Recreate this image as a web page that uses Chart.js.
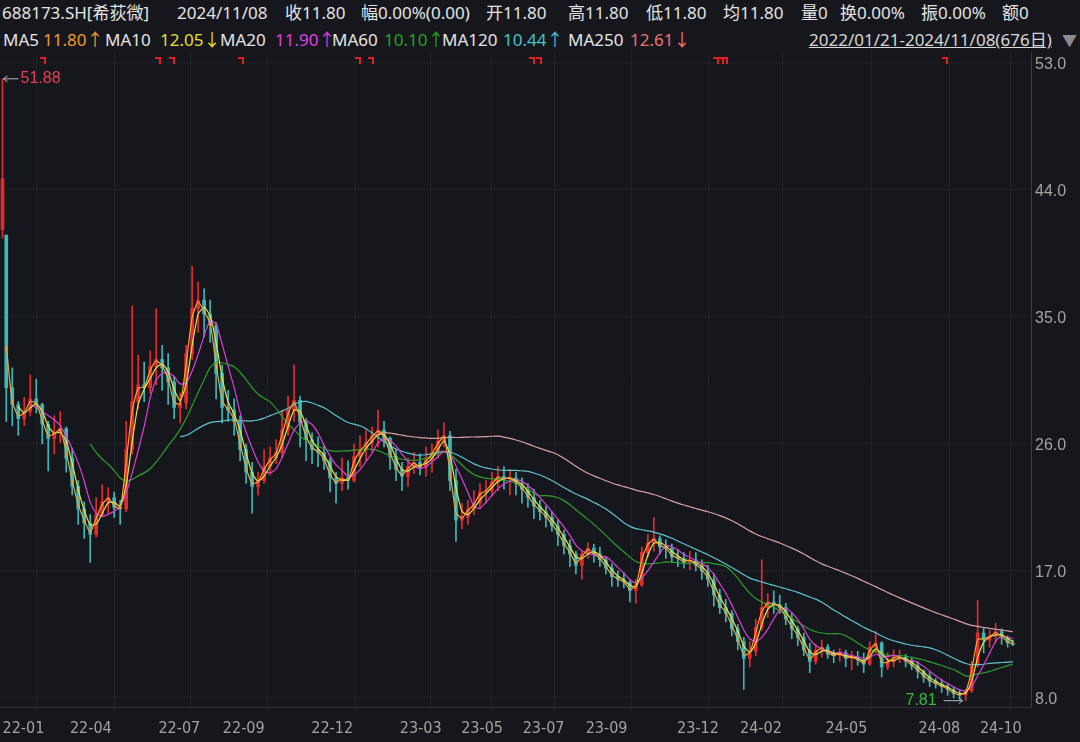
<!DOCTYPE html>
<html><head><meta charset="utf-8">
<script src="https://cdn.jsdelivr.net/npm/chart.js@4.4.1/dist/chart.umd.min.js"></script>
<style>
html,body{margin:0;padding:0;background:#16171c;width:1080px;height:742px;overflow:hidden}
.t{position:absolute;white-space:nowrap;font-family:"Noto Sans","Noto Sans CJK SC",sans-serif;font-size:17px;line-height:20px;color:#e4e4e4}
#wrap{position:absolute;left:0;top:39px;width:1080px;height:703px}
</style></head><body>
<span class="t" style="left:2px;top:3px">688173.SH[希荻微]</span>
<span class="t" style="left:177px;top:3px">2024/11/08</span>
<span class="t" style="left:285px;top:3px">收11.80</span>
<span class="t" style="left:361px;top:3px">幅0.00%(0.00)</span>
<span class="t" style="left:486px;top:3px">开11.80</span>
<span class="t" style="left:568px;top:3px">高11.80</span>
<span class="t" style="left:646px;top:3px">低11.80</span>
<span class="t" style="left:723px;top:3px">均11.80</span>
<span class="t" style="left:801px;top:3px">量0</span>
<span class="t" style="left:840px;top:3px">换0.00%</span>
<span class="t" style="left:921px;top:3px">振0.00%</span>
<span class="t" style="left:1002px;top:3px">额0</span>

<span class="t" style="left:3px;top:30px">MA5</span>
<span class="t" style="left:43px;top:30px;color:#f39a2b">11.80↑</span>
<span class="t" style="left:105px;top:30px">MA10</span>
<span class="t" style="left:160px;top:30px;color:#e4df2f">12.05↓</span>
<span class="t" style="left:220px;top:30px">MA20</span>
<span class="t" style="left:275px;top:30px;color:#e03fe0">11.90↑</span>
<span class="t" style="left:332px;top:30px">MA60</span>
<span class="t" style="left:384px;top:30px;color:#22a522">10.10↑</span>
<span class="t" style="left:442px;top:30px">MA120</span>
<span class="t" style="left:503px;top:30px;color:#3fc6cf">10.44↑</span>
<span class="t" style="left:568px;top:30px">MA250</span>
<span class="t" style="left:630px;top:30px;color:#f07272">12.61↓</span>
<span class="t" style="left:809px;top:30px;text-decoration:underline;color:#d8d8d8">2022/01/21-2024/11/08(676日)</span>
<span class="t" style="left:1062px;top:30px;color:#8c8c8c;font-size:15px">▼</span>

<div id="wrap"><canvas id="c" width="1080" height="703"></canvas></div>
<script>
// ---- data (4-trading-day candles; first candle = listing day, last = final 3 days) ----
const OPEN = [
41.2, 40.8, 30.0, 28.8, 27.8, 28.3, 29.2, 28.8, 27.4, 26.4,
26.8, 27.1, 25.0, 23.0, 21.4, 20.4, 19.6, 21.0, 21.9, 22.2,
21.5, 21.4, 25.6, 29.0, 30.2, 30.0, 31.5, 32.0, 31.4, 30.4,
28.6, 28.9, 32.4, 35.6, 36.2, 35.2, 34.4, 31.0, 28.6, 28.4,
27.6, 25.6, 24.0, 23.0, 23.4, 24.4, 25.0, 25.4, 27.0, 28.4,
29.1, 27.5, 26.3, 25.6, 25.4, 24.8, 23.6, 23.2, 23.6, 23.4,
25.1, 25.6, 26.1, 26.6, 27.0, 26.4, 25.1, 24.2, 23.7, 24.4,
24.7, 24.3, 24.9, 25.4, 26.2, 26.6, 23.4, 20.6, 20.8, 21.4,
21.8, 22.6, 22.7, 23.3, 23.7, 23.5, 23.6, 23.2, 22.8, 22.2,
21.6, 21.2, 20.8, 20.2, 19.6, 18.8, 18.2, 17.4, 18.2, 18.6,
18.2, 17.8, 17.2, 16.6, 16.4, 16.2, 15.6, 16.0, 18.3, 19.0,
19.3, 18.7, 18.6, 18.0, 17.9, 17.6, 17.8, 17.4, 17.0, 16.4,
15.3, 14.4, 14.0, 12.9, 12.0, 10.8, 11.3, 13.0, 14.4, 14.8,
14.6, 14.4, 13.6, 12.9, 12.3, 11.4, 10.6, 11.4, 11.6, 11.1,
11.0, 11.2, 10.8, 10.9, 10.7, 10.4, 11.6, 11.9, 10.2, 10.6,
10.9, 10.9, 10.6, 10.3, 9.9, 9.5, 9.2, 9.0, 8.8, 8.6,
8.3, 8.2, 8.5, 10.3, 12.6, 12.1, 12.4, 12.7, 12.3, 11.9];
const HIGH = [
51.88, 40.8, 31.4, 29.0, 29.3, 30.9, 30.6, 28.9, 27.6, 28.0,
28.3, 27.2, 25.7, 23.4, 21.9, 21.0, 22.2, 23.1, 22.9, 22.6,
22.0, 27.6, 35.8, 32.3, 31.8, 32.6, 35.6, 33.0, 32.4, 30.8,
29.6, 33.0, 38.6, 37.5, 37.0, 36.2, 34.6, 31.6, 29.8, 29.2,
28.0, 26.0, 24.7, 24.0, 25.6, 25.8, 26.3, 28.4, 29.4, 31.6,
29.4, 27.8, 26.8, 26.5, 25.9, 25.0, 24.0, 25.0, 24.8, 26.0,
26.6, 27.0, 27.2, 28.4, 27.6, 26.5, 25.6, 24.7, 25.0, 25.4,
25.3, 25.8, 26.0, 27.0, 27.5, 26.9, 24.2, 21.8, 22.0, 22.7,
23.2, 23.4, 24.0, 24.4, 24.4, 24.2, 24.0, 23.6, 23.2, 22.8,
22.0, 21.6, 21.2, 20.6, 19.9, 19.2, 18.4, 18.4, 19.0, 18.9,
18.7, 18.0, 17.5, 17.0, 16.9, 16.4, 16.4, 18.7, 19.6, 20.8,
19.5, 19.2, 18.9, 18.5, 18.3, 18.4, 18.3, 17.8, 17.4, 16.8,
15.7, 15.0, 14.2, 13.2, 12.3, 12.0, 13.6, 17.8, 15.4, 15.6,
15.3, 14.7, 14.0, 13.1, 12.6, 11.9, 11.8, 12.1, 11.8, 11.4,
11.5, 11.4, 11.3, 11.3, 11.2, 12.0, 12.7, 12.0, 11.2, 11.4,
11.4, 11.1, 10.9, 10.6, 10.0, 9.8, 9.4, 9.3, 9.0, 8.8,
8.6, 8.6, 10.6, 14.9, 13.0, 12.8, 13.3, 12.9, 12.4, 12.1];
const LOW = [
40.6, 27.6, 27.3, 26.6, 27.3, 28.0, 28.2, 26.0, 24.1, 25.3,
26.1, 24.0, 22.4, 20.3, 19.3, 17.6, 19.4, 20.9, 21.1, 20.8,
20.3, 21.2, 25.3, 28.5, 29.0, 29.6, 30.2, 29.8, 28.8, 27.8,
27.5, 28.5, 32.0, 33.9, 33.6, 33.2, 29.2, 27.5, 27.6, 26.6,
24.8, 23.2, 21.1, 22.4, 23.2, 23.8, 24.6, 25.0, 26.6, 27.6,
25.8, 24.8, 24.6, 24.4, 24.2, 22.6, 21.8, 22.7, 22.8, 23.3,
24.4, 24.8, 25.4, 25.8, 25.8, 24.2, 23.4, 22.7, 23.0, 23.9,
23.8, 23.7, 24.0, 25.0, 25.8, 22.7, 19.1, 20.0, 20.3, 21.0,
21.4, 21.8, 22.3, 22.7, 22.8, 22.4, 22.4, 21.8, 21.5, 20.7,
20.6, 20.1, 19.8, 18.8, 18.2, 17.3, 16.8, 16.4, 17.9, 17.6,
17.3, 16.8, 15.9, 15.9, 15.8, 14.8, 14.7, 15.9, 18.0, 18.4,
18.2, 17.9, 17.6, 17.3, 17.2, 17.1, 17.0, 16.4, 15.9, 14.5,
14.0, 13.4, 12.4, 11.4, 8.6, 10.2, 11.0, 12.8, 13.7, 14.0,
14.0, 13.2, 12.2, 11.7, 11.0, 9.8, 10.4, 10.9, 10.8, 10.5,
10.6, 10.2, 10.0, 10.3, 9.8, 10.3, 11.2, 9.5, 10.0, 10.2,
10.5, 10.2, 10.0, 9.4, 9.1, 8.8, 8.7, 8.4, 8.2, 8.0,
7.9, 7.81, 8.4, 10.2, 11.2, 11.6, 11.9, 11.8, 11.6, 11.7];
const CLOSE = [
44.8, 30.0, 28.8, 27.8, 28.3, 29.2, 28.8, 27.4, 26.4, 26.8,
27.1, 25.0, 23.0, 21.4, 20.4, 19.6, 21.0, 21.9, 22.2, 21.5,
21.4, 25.6, 29.0, 30.2, 30.0, 31.5, 32.0, 31.4, 30.4, 28.6,
28.9, 32.4, 35.6, 36.2, 35.2, 34.4, 31.0, 28.6, 28.4, 27.6,
25.6, 24.0, 23.0, 23.4, 24.4, 25.0, 25.4, 27.0, 28.4, 29.1,
27.5, 26.3, 25.6, 25.4, 24.8, 23.6, 23.2, 23.6, 23.4, 25.1,
25.6, 26.1, 26.6, 27.0, 26.4, 25.1, 24.2, 23.7, 24.4, 24.7,
24.3, 24.9, 25.4, 26.2, 26.6, 23.4, 20.6, 20.8, 21.4, 21.8,
22.6, 22.7, 23.3, 23.7, 23.5, 23.6, 23.2, 22.8, 22.2, 21.6,
21.2, 20.8, 20.2, 19.6, 18.8, 18.2, 17.4, 18.2, 18.6, 18.2,
17.8, 17.2, 16.6, 16.4, 16.2, 15.6, 16.0, 18.3, 19.0, 19.3,
18.7, 18.6, 18.0, 17.9, 17.6, 17.8, 17.4, 17.0, 16.4, 15.3,
14.4, 14.0, 12.9, 12.0, 10.8, 11.3, 13.0, 14.4, 14.8, 14.6,
14.4, 13.6, 12.9, 12.3, 11.4, 10.6, 11.4, 11.6, 11.1, 11.0,
11.2, 10.8, 10.9, 10.7, 10.4, 11.6, 11.9, 10.2, 10.6, 10.9,
10.9, 10.6, 10.3, 9.9, 9.5, 9.2, 9.0, 8.8, 8.6, 8.3,
8.2, 8.5, 10.3, 12.6, 12.1, 12.4, 12.7, 12.3, 11.9, 11.8];

const MONTH_LABELS = ['22-01','22-04','22-07','22-09','22-12','23-03','23-05','23-07','23-09','23-12','24-02','24-05','24-08','24-10'];
const MONTH_DAYS   = [0, 45, 104, 147, 206, 265, 306, 347, 389, 450, 492, 549, 611, 652];
const PRICE_TICKS  = [8, 17, 26, 35, 44, 53];
const MARKER_DAYS  = [27, 104, 113, 159, 237, 246, 353, 358, 476, 479, 482, 629];
const MA_PERIODS   = [5, 10, 20, 60, 120, 250];
const MA_COLORS    = ['#f4a43a', '#e6e24c', '#d940d9', '#2c9e2c', '#5cc3cc', '#d8a0a0'];
const UP = '#e22c2c', DOWN = '#3fb6b6';

// trading days covered by each candle
const N = CLOSE.length;
const span = i => (i === 0 ? 1 : (i === N - 1 ? 3 : 4));
const start = []; let acc = 0;
for (let i = 0; i < N; i++) { start.push(acc); acc += span(i); }
const center = start.map((s, i) => s + (span(i) - 1) / 2);

function movingAvg(n) {
  const out = [];
  for (let j = 0; j < N; j++) {
    let need = n, sum = 0, i = j;
    while (need > 0 && i >= 0) { const w = Math.min(span(i), need); sum += CLOSE[i] * w; need -= w; i--; }
    if (need === 0) out.push({ x: center[j], y: sum / n });
  }
  return out;
}

const colors = CLOSE.map((c, i) => (c >= OPEN[i] ? UP : DOWN));
const wicks = CLOSE.map((c, i) => ({ x: center[i], y: [LOW[i], HIGH[i]] }));
const bodies = CLOSE.map((c, i) => ({ x: center[i], y: [Math.min(OPEN[i], c), Math.max(OPEN[i], c)] }));

const lineSets = MA_PERIODS.map((p, k) => ({
  type: 'line', label: 'MA' + p, data: movingAvg(p), borderColor: MA_COLORS[k],
  borderWidth: 1.2, pointRadius: 0, tension: 0.2, order: 1
}));

const annot = {
  id: 'annot',
  afterDatasetsDraw(chart) {
    const { ctx, chartArea } = chart; const x = chart.scales.x, y = chart.scales.y;
    ctx.save();
    ctx.fillStyle = '#e41e1e';
    MARKER_DAYS.forEach(d => {
      const px = Math.round(x.getPixelForValue(d)); const top = Math.round(chartArea.top) + 4;
      ctx.fillRect(px - 3, top, 6, 2); ctx.fillRect(px + 1, top, 2, 7);
    });
    ctx.font = '16px "Liberation Sans", Arial, sans-serif';
    ctx.textBaseline = 'middle';
    // highest
    const hi = Math.max(...HIGH), iH = HIGH.indexOf(hi);
    const hx = x.getPixelForValue(center[iH]), hy = y.getPixelForValue(hi);
    ctx.strokeStyle = '#b8b8b8'; ctx.lineWidth = 1;
    ctx.beginPath(); ctx.moveTo(hx + 1, hy); ctx.lineTo(hx + 16, hy);
    ctx.moveTo(hx + 5, hy - 3); ctx.lineTo(hx + 1, hy); ctx.lineTo(hx + 5, hy + 3); ctx.stroke();
    ctx.fillStyle = '#e5404f'; ctx.textAlign = 'left';
    ctx.fillText(hi.toFixed(2), hx + 18, hy);
    // lowest
    const lo = Math.min(...LOW), iL = LOW.indexOf(lo);
    const lx = x.getPixelForValue(center[iL]), ly = y.getPixelForValue(lo);
    ctx.beginPath(); ctx.moveTo(lx - 22, ly); ctx.lineTo(lx - 3, ly);
    ctx.moveTo(lx - 7, ly - 3); ctx.lineTo(lx - 3, ly); ctx.lineTo(lx - 7, ly + 3); ctx.stroke();
    ctx.fillStyle = '#37b837'; ctx.textAlign = 'right';
    ctx.fillText(lo.toFixed(2), lx - 29, ly);
    ctx.restore();
  }
};

new Chart(document.getElementById('c'), {
  type: 'bar',
  data: {
    datasets: [
      ...lineSets,
      { label: 'wick', data: wicks, backgroundColor: colors, barThickness: 1, grouped: false, order: 11 },
      { label: 'body', data: bodies, backgroundColor: colors, barThickness: 3, grouped: false, minBarLength: 1, order: 10 }
    ]
  },
  options: {
    responsive: false, animation: false, devicePixelRatio: 1,
    layout: { padding: 0 },
    plugins: { legend: { display: false }, tooltip: { enabled: false } },
    scales: {
      x: {
        type: 'linear', min: -1.668, max: 686.1, offset: false,
        afterBuildTicks: s => { s.ticks = MONTH_DAYS.map(v => ({ value: v })); },
        afterFit: s => { s.height = 35; },
        ticks: {
          autoSkip: false, maxRotation: 0, align: 'start', padding: 0, color: '#a3a3a3',
          font: { family: '"Liberation Sans Narrow","DejaVu Sans Condensed",sans-serif', size: 16 },
          callback: v => MONTH_LABELS[MONTH_DAYS.indexOf(v)]
        },
        grid: { color: '#202228', drawTicks: true, tickLength: 12, tickColor: 'rgba(0,0,0,0)' },
        border: { display: true, color: '#2c2f36' }
      },
      y: {
        position: 'right', min: 7.362, max: 53.737,
        afterBuildTicks: s => { s.ticks = PRICE_TICKS.map(v => ({ value: v })); },
        afterFit: s => { s.width = 49; },
        ticks: { padding: 4, labelOffset: 2, color: '#a3a3a3', font: { family: '"Liberation Sans",Arial,sans-serif', size: 16 }, callback: v => v.toFixed(1) },
        grid: { color: '#202228', drawTicks: false },
        border: { display: true, color: '#3a3d44' }
      }
    }
  },
  plugins: [annot]
});
</script>
</body></html>
